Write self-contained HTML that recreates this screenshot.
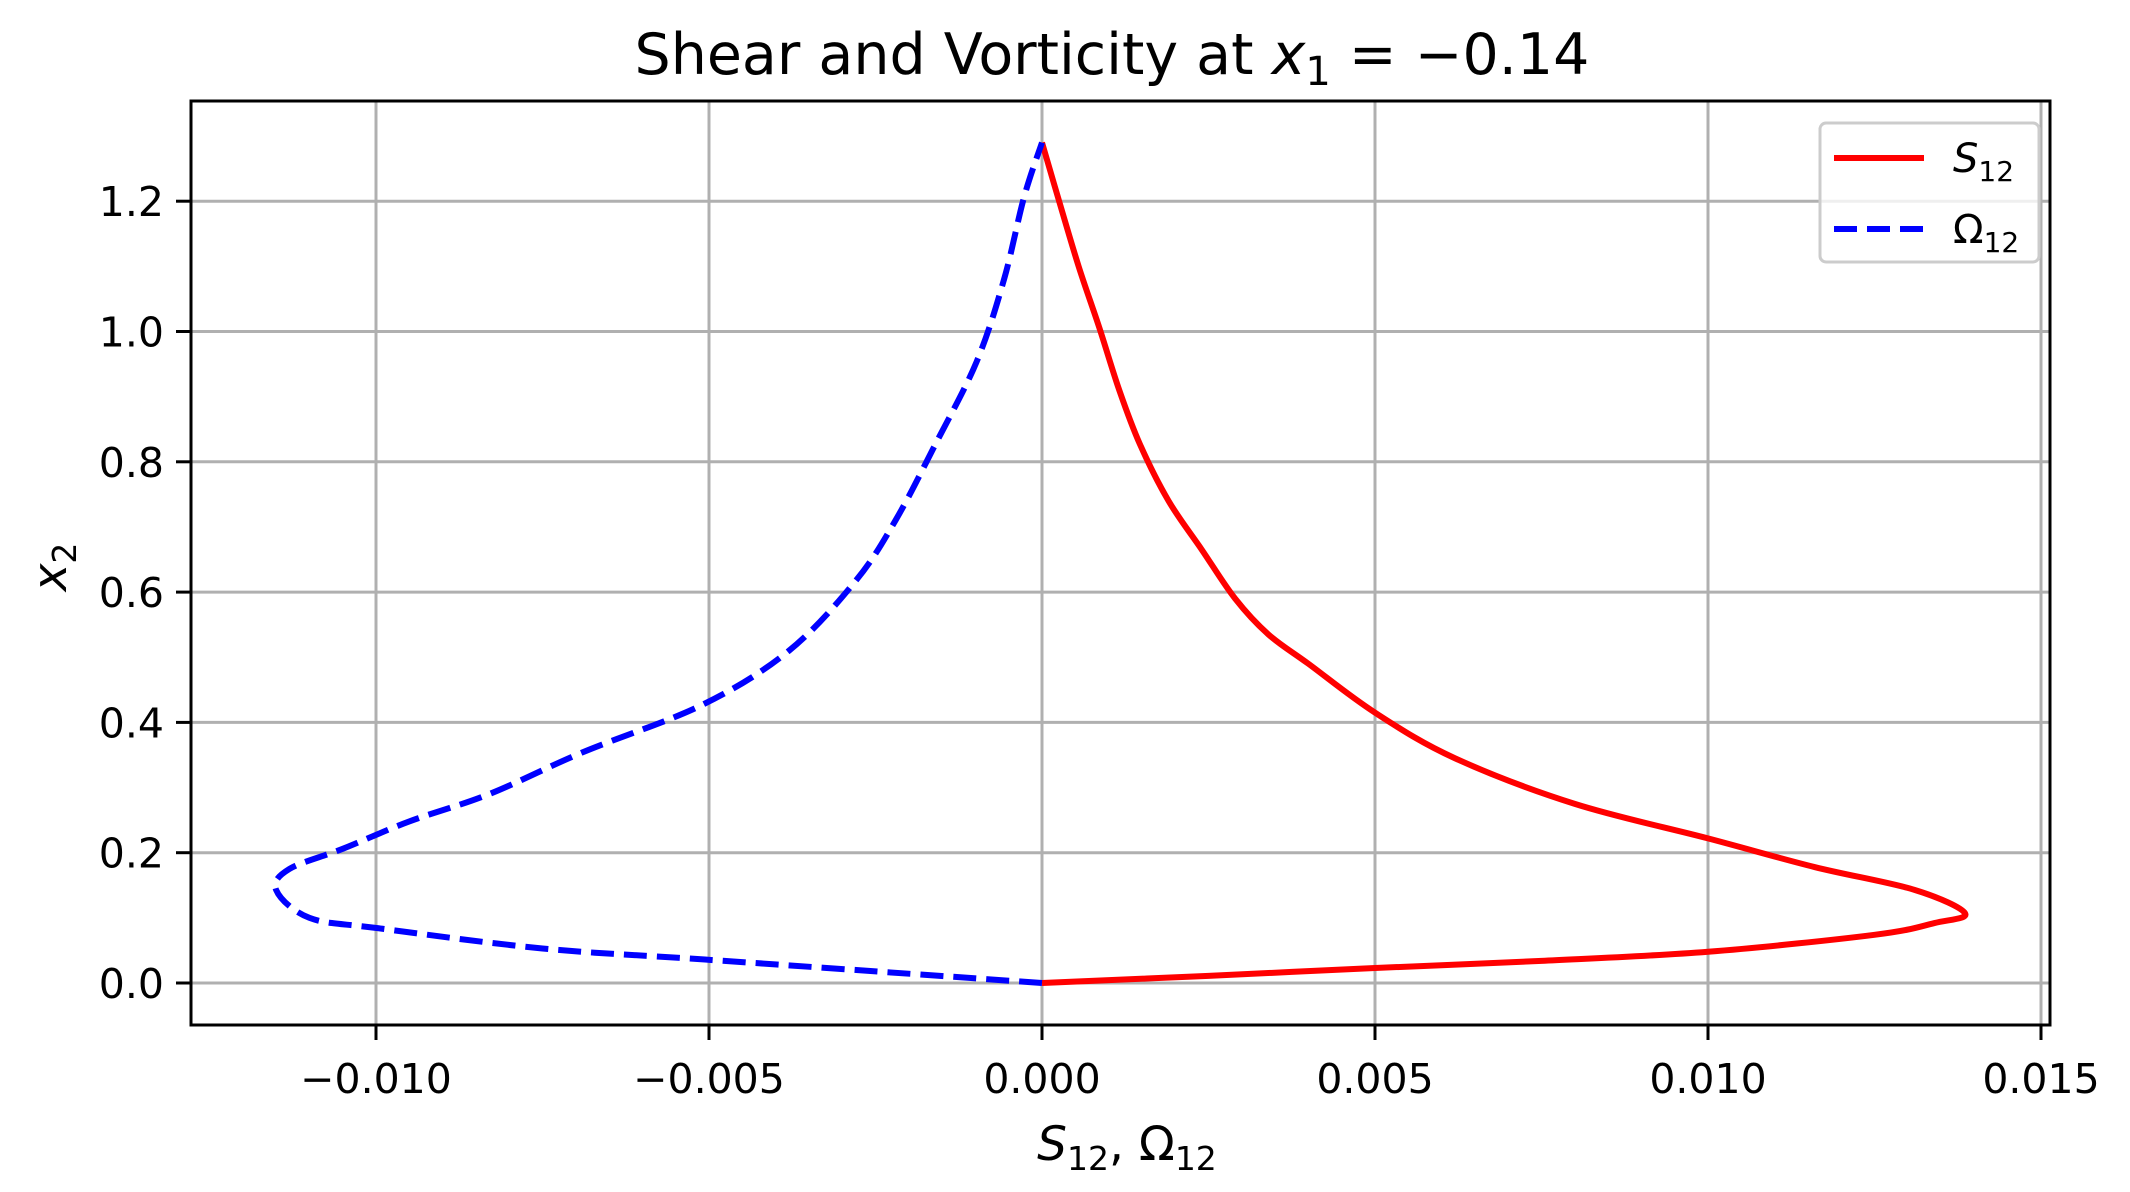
<!DOCTYPE html>
<html><head><meta charset="utf-8">
<style>html,body{margin:0;padding:0;background:#fff}svg{display:block}text{font-family:"DejaVu Sans","Liberation Sans",sans-serif;fill:#000}</style>
</head><body>
<svg id="chart" width="2130" height="1192" viewBox="0 0 2130 1192" xmlns="http://www.w3.org/2000/svg">
<text x="1112" y="74" font-size="57" text-anchor="middle">Shear and Vorticity at <tspan font-style="italic">x</tspan><tspan font-size="40" dy="11">1</tspan><tspan dy="-11"> = −0.14</tspan></text>
<g id="grid"></g>
<g id="series"></g>
<rect x="191" y="101" width="1859" height="924" fill="none" stroke="#000" stroke-width="3"/>
<g id="ticks"></g>
<text x="1127" y="1160" font-size="47" text-anchor="middle"><tspan font-style="italic">S</tspan><tspan font-size="33" dy="10">12</tspan><tspan dy="-10">, Ω</tspan><tspan font-size="33" dy="10">12</tspan></text>
<text transform="translate(66,567) rotate(-90)" font-size="47" text-anchor="middle"><tspan font-style="italic">x</tspan><tspan font-size="33" dy="10">2</tspan></text>
<g>
<rect x="1820" y="123" width="219" height="139" rx="6" fill="#fff" fill-opacity="0.8" stroke="#ccc" stroke-width="3"/>
<line x1="1834" y1="158" x2="1924" y2="158" stroke="#f00" stroke-width="6"/>
<text x="1953" y="172" font-size="40"><tspan font-style="italic">S</tspan><tspan font-size="28" dy="9">12</tspan></text>
<line x1="1834" y1="229" x2="1924" y2="229" stroke="#00f" stroke-width="6" stroke-dasharray="23,10"/>
<text x="1953" y="243" font-size="40">Ω<tspan font-size="28" dy="9">12</tspan></text>
</g>
</svg>
<script>
const xTicks = [-0.010, -0.005, 0.000, 0.005, 0.010, 0.015];
const xTickLabels = ["−0.010", "−0.005", "0.000", "0.005", "0.010", "0.015"];
const yTicks = [0.0, 0.2, 0.4, 0.6, 0.8, 1.0, 1.2];
const yTickLabels = ["0.0", "0.2", "0.4", "0.6", "0.8", "1.0", "1.2"];
const s12X = [0, 0.0025, 0.005, 0.0075, 0.010, 0.0125, 0.0134, 0.01386, 0.0131, 0.0116, 0.010, 0.0080, 0.0062, 0.005, 0.0040, 0.0034, 0.0029, 0.0024, 0.0019, 0.00147, 0.00116, 0.00086, 0.00055, 0.00024, 0];
const s12Y = [0, 0.011, 0.023, 0.034, 0.048, 0.074, 0.092, 0.107, 0.143, 0.178, 0.222, 0.275, 0.345, 0.415, 0.49, 0.535, 0.59, 0.665, 0.74, 0.827, 0.91, 1.006, 1.1, 1.206, 1.29];
const o12X = [0, -0.0014, -0.00506, -0.0075, -0.00996, -0.011, -0.0115, -0.0113, -0.0105, -0.0095, -0.0083, -0.0069, -0.0051, -0.0038, -0.0028, -0.0022, -0.0016, -0.00098, -0.00057, -0.00027, 0];
const o12Y = [0, 0.01, 0.036, 0.053, 0.084, 0.10, 0.143, 0.175, 0.206, 0.248, 0.29, 0.354, 0.427, 0.51, 0.617, 0.71, 0.827, 0.954, 1.08, 1.206, 1.29];

const NS = "http://www.w3.org/2000/svg";
const X0 = 1042, XK = 66600, Y0 = 983, YK = 651.5;
const sx = v => X0 + v * XK;
const sy = v => Y0 - v * YK;
function mk(tag, attrs, parent) {
  const e = document.createElementNS(NS, tag);
  for (const k in attrs) e.setAttribute(k, attrs[k]);
  parent.appendChild(e);
  return e;
}
const grid = document.getElementById('grid');
const ticks = document.getElementById('ticks');
xTicks.forEach((v, i) => {
  const x = sx(v);
  const g = mk('line', {x1: x, y1: 101, x2: x, y2: 1025, stroke: '#b0b0b0', 'stroke-width': 3}, grid);
  
  
  const t = mk('line', {x1: x, y1: 1025, x2: x, y2: 1040, stroke: '#000', 'stroke-width': 3}, ticks);
  
  
  const l = mk('text', {x: x, y: 1093, 'font-size': 41, 'text-anchor': 'middle'}, ticks);
  l.textContent = xTickLabels[i];
  
  
});
yTicks.forEach((v, i) => {
  const y = sy(v);
  const g = mk('line', {x1: 191, y1: y, x2: 2050, y2: y, stroke: '#b0b0b0', 'stroke-width': 3}, grid);
  
  
  const t = mk('line', {x1: 176, y1: y, x2: 191, y2: y, stroke: '#000', 'stroke-width': 3}, ticks);
  
  
  const l = mk('text', {x: 164, y: y + 15, 'font-size': 41, 'text-anchor': 'end'}, ticks);
  l.textContent = yTickLabels[i];
  
  
});
function path(xs, ys) {
  const p = xs.map((v, i) => [sx(v), sy(ys[i])]);
  let d = 'M' + p[0][0] + ',' + p[0][1];
  for (let i = 0; i < p.length - 1; i++) {
    const a = p[Math.max(0, i - 1)], b = p[i], c = p[i + 1], e = p[Math.min(p.length - 1, i + 2)];
    const c1 = [b[0] + (c[0] - a[0]) / 6, b[1] + (c[1] - a[1]) / 6];
    const c2 = [c[0] - (e[0] - b[0]) / 6, c[1] - (e[1] - b[1]) / 6];
    d += ' C' + c1 + ' ' + c2 + ' ' + c;
  }
  return d;
}
const series = document.getElementById('series');
const s = mk('path', {d: path(s12X, s12Y), fill: 'none', stroke: '#f00', 'stroke-width': 6, 'stroke-linejoin': 'round'}, series);


const o = mk('path', {d: path(o12X, o12Y), fill: 'none', stroke: '#00f', 'stroke-width': 6, 'stroke-dasharray': '23,10'}, series);


</script>
</body></html>
